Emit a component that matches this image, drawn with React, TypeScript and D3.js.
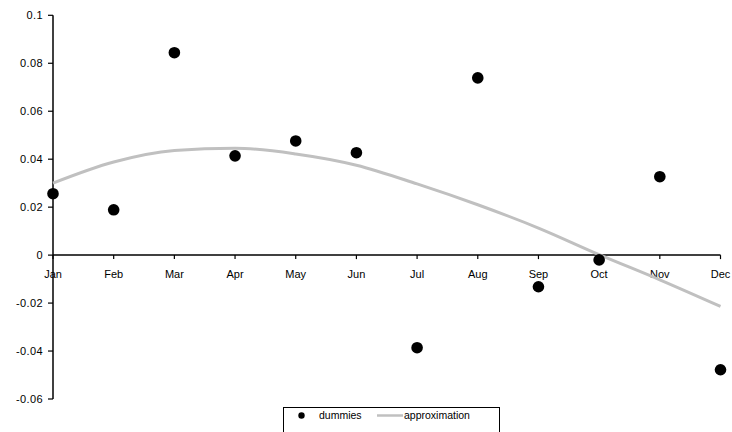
import React from "react";
import * as d3 from "d3";

const months = ["Jan", "Feb", "Mar", "Apr", "May", "Jun", "Jul", "Aug", "Sep", "Oct", "Nov", "Dec"];
const dummies = [0.0256, 0.0189, 0.0844, 0.0414, 0.0476, 0.0427, -0.0386, 0.0739, -0.0132, -0.002, 0.0327, -0.0478];
const approximation = [0.030, 0.0388, 0.0436, 0.0446, 0.0422, 0.0375, 0.0297, 0.021, 0.0113, 0.0002, -0.0103, -0.0214];
const yTicks = [0.1, 0.08, 0.06, 0.04, 0.02, 0, -0.02, -0.04, -0.06];
const yTickLabels = ["0.1", "0.08", "0.06", "0.04", "0.02", "0", "-0.02", "-0.04", "-0.06"];

export default function App() {
  const W = 732, H = 432;
  const x = d3.scalePoint<string>().domain(months).range([53, 720.5]);
  const y = d3.scaleLinear().domain([-0.06, 0.1]).range([399, 15.3]);
  const line = d3
    .line<number>()
    .x((_, i) => x(months[i])!)
    .y((d) => y(d))
    .curve(d3.curveMonotoneX);
  const font = "'Liberation Sans', Arial, sans-serif";
  return (
    <svg width={W} height={H} style={{ position: "absolute", left: 0, top: 0, background: "#fff" }} fontFamily={font}>
      <rect x={0} y={0} width={W} height={H} fill="#fff" />
      {/* y axis */}
      <line x1={53} x2={53} y1={y(0.1)} y2={y(-0.06)} stroke="#000" strokeWidth={1.5} />
      {yTicks.map((t, i) => (
        <g key={i}>
          <line x1={48} x2={53} y1={y(t)} y2={y(t)} stroke="#000" strokeWidth={1.2} />
          <text x={43} y={y(t)} dy="0.35em" textAnchor="end" fontSize={11} letterSpacing={0.4} fill="#000">
            {yTickLabels[i]}
          </text>
        </g>
      ))}
      {/* x axis at zero */}
      <line x1={53} x2={x("Dec")!} y1={y(0)} y2={y(0)} stroke="#000" strokeWidth={1.5} />
      {months.map((m) => (
        <g key={m}>
          <line x1={x(m)!} x2={x(m)!} y1={y(0)} y2={y(0) + 4} stroke="#000" strokeWidth={1.2} />
          <text x={x(m)!} y={y(0) + 22.5} textAnchor="middle" fontSize={11} fill="#000">
            {m}
          </text>
        </g>
      ))}
      {/* approximation curve */}
      <path d={line(approximation) || ""} fill="none" stroke="#c0c0c0" strokeWidth={3} />
      {/* dummies points */}
      {dummies.map((v, i) => (
        <circle key={i} cx={x(months[i])!} cy={y(v)} r={5.8} fill="#000" />
      ))}
      {/* legend */}
      <rect x={283.5} y={407.5} width={216} height={30} fill="#fff" stroke="#000" strokeWidth={1} />
      <circle cx={301.5} cy={415.5} r={3.2} fill="#000" />
      <text x={319} y={419} fontSize={10.5} fill="#000">dummies</text>
      <line x1={377} x2={403} y1={415.5} y2={415.5} stroke="#c0c0c0" strokeWidth={2.5} />
      <text x={404} y={419} fontSize={10.5} fill="#000">approximation</text>
    </svg>
  );
}
